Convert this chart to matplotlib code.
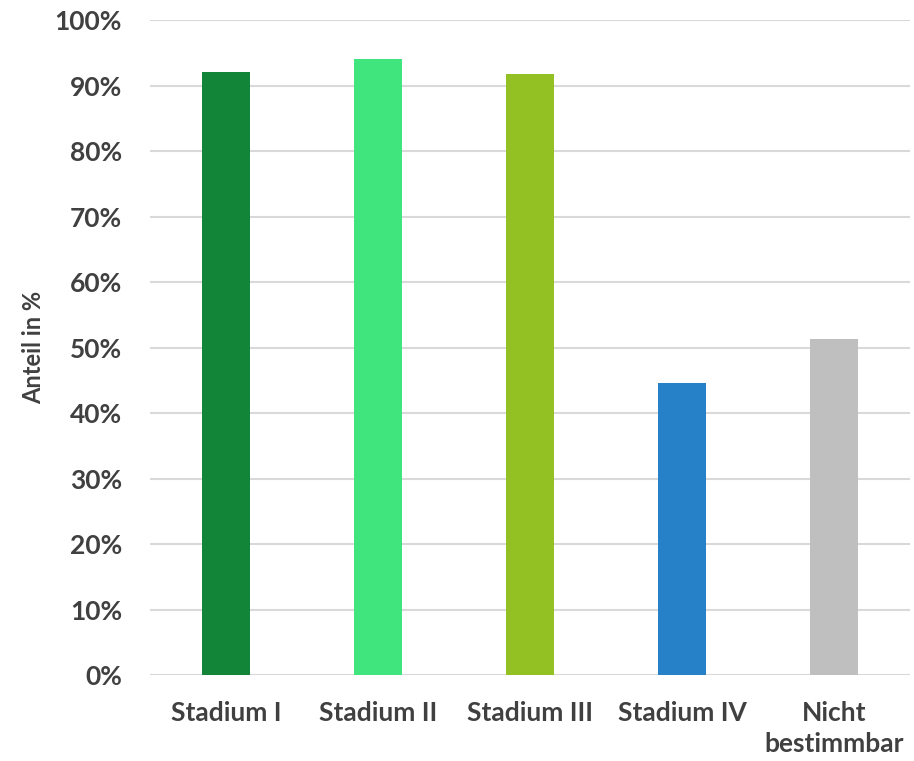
import matplotlib.pyplot as plt
from matplotlib.ticker import PercentFormatter

###############################################################################

categories = ['Stadium I', 'Stadium II', 'Stadium III', 'Stadium IV',
              'Nicht\nbestimmbar']
shares = [92.1, 94.0, 91.8, 44.6, 51.3]
bar_colors = ['#138539', '#40E67D', '#93C123', '#2681C8', '#BFBFBF']
y_ticks = list(range(0, 101, 10))

###############################################################################

if __name__ == "__main__":

    plt.rcParams['font.family'] = ['Lato', 'DejaVu Sans']
    txt_col = '#404040'

    fig = plt.figure(figsize=(9.14, 7.61), dpi=100)
    ax = fig.add_axes([0.164, 0.113, 0.8316, 0.8607])

    xs = range(len(categories))
    ax.bar(xs, shares, width=0.316, color=bar_colors, zorder=3)

    ax.set_ylim(0, 100)
    ax.set_xlim(-0.5, len(categories) - 0.5)
    ax.set_yticks(y_ticks)
    ax.yaxis.set_major_formatter(PercentFormatter(decimals=0))
    ax.set_xticks(list(xs))
    ax.set_xticklabels(categories, linespacing=1.35)
    ax.grid(axis='y', color='#d9d9d9', linewidth=1.5, zorder=0)

    for sp in ax.spines.values():
        sp.set_visible(False)

    ax.tick_params(axis='both', length=0, labelsize=19, colors=txt_col)
    ax.tick_params(axis='x', pad=19)
    ax.tick_params(axis='y', pad=20)
    for lbl in ax.get_xticklabels() + ax.get_yticklabels():
        lbl.set_fontweight('bold')
    ax.set_ylabel('Anteil in %', fontsize=17, fontweight='bold',
                  color=txt_col, labelpad=7)

    plt.savefig('out.png', dpi=100)
